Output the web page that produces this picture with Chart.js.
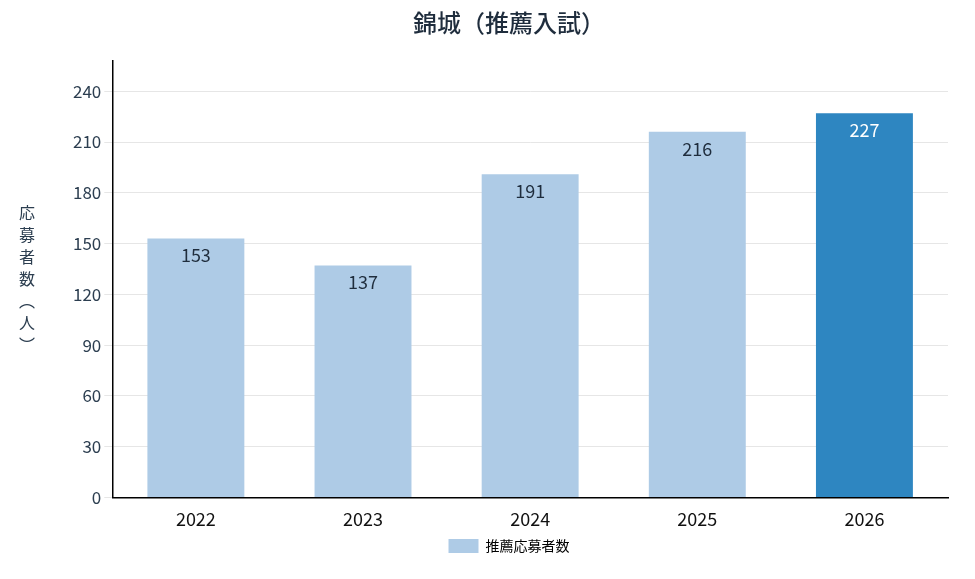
<!DOCTYPE html>
<html><head><meta charset="utf-8">
<script src="https://cdn.jsdelivr.net/npm/chart.js@4"></script>
<style>html,body{margin:0;padding:0;background:#fff}#w{width:975px;height:579px}</style>
</head><body><div id="w"><canvas id="c"></canvas></div>
<script>
const categories=['2022','2023','2024','2025','2026'];
const values=[153,137,191,216,227];
const barColors=['#aecbe6','#aecbe6','#aecbe6','#aecbe6','#2e86c1'];
const labelColors=['#1f2d3d','#1f2d3d','#1f2d3d','#1f2d3d','#ffffff'];
const FONT='"Noto Sans CJK JP","Noto Sans",sans-serif';
const yTitle='応募者数（人）';
const vmap={'（':'︵','）':'︶'};
const plugin={id:'p',afterDatasetsDraw(ch){
 const ctx=ch.ctx;const m=ch.getDatasetMeta(0);
 ctx.save();ctx.font='18px '+FONT;ctx.textAlign='center';ctx.textBaseline='top';
 m.data.forEach((b,i)=>{ctx.fillStyle=labelColors[i];ctx.fillText(values[i],b.x,b.y+8);});
 ctx.fillStyle='#2c3e50';ctx.font='16px '+FONT;ctx.textBaseline='middle';
 const chars=[...yTitle];const cy=(ch.chartArea.top+ch.chartArea.bottom)/2;const step=22;
 chars.forEach((c,i)=>ctx.fillText(vmap[c]||c,27,cy+(i-(chars.length-1)/2)*step));
 ctx.restore();}};
new Chart(document.getElementById('c'),{type:'bar',
 data:{labels:categories,datasets:[{label:'推薦応募者数',data:values,backgroundColor:barColors,categoryPercentage:0.58,barPercentage:1}]},
 options:{responsive:true,maintainAspectRatio:false,animation:false,
  layout:{padding:{left:70,right:27,top:0,bottom:16}},
  plugins:{title:{display:true,text:'錦城（推薦入試）',color:'#1f2d3d',font:{family:FONT,size:24,weight:'500'},padding:{top:8,bottom:24}},
   legend:{position:'bottom',labels:{color:'#1f2d3d',font:{family:FONT,size:14},boxWidth:30,boxHeight:14,padding:6,
    generateLabels:()=>[{text:'推薦応募者数',fillStyle:'#aecbe6',strokeStyle:'#aecbe6',lineWidth:0}]}},
   tooltip:{enabled:false}},
  scales:{x:{grid:{display:false},border:{color:'#000',width:1.5},ticks:{color:'#111',font:{family:FONT,size:18}}},
   y:{min:0,max:258,grid:{color:'#e6e6e6'},border:{color:'#000',width:1.5},
    ticks:{stepSize:30,color:'#2c3e50',font:{family:FONT,size:17},callback:v=>v%30===0?v:null}}}},
 plugins:[plugin]});
</script></body></html>
